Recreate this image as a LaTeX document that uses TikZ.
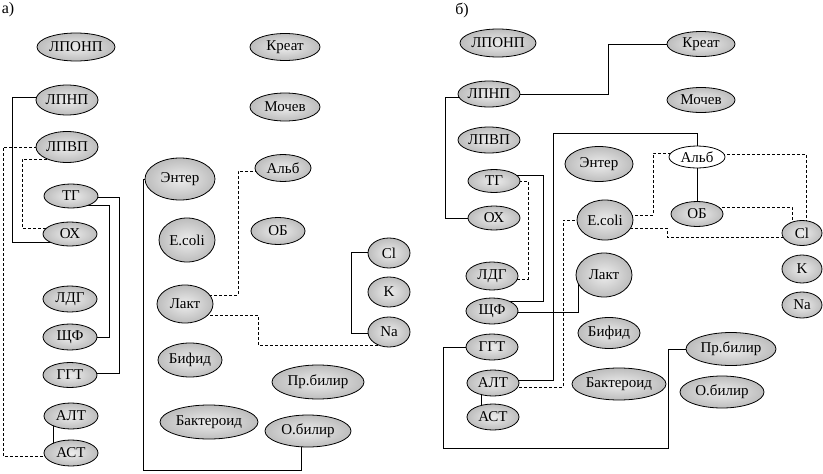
\documentclass[tikz,border=0pt]{standalone}
\usepackage{fontspec}
\setmainfont{Liberation Serif}
\usetikzlibrary{shapes.geometric,backgrounds}
\tikzset{
  el/.style 2 args={ellipse, draw, line width=0.8pt, inner sep=0pt,
    minimum width=#1pt, minimum height=#2pt,
    shade, inner color=black!7, outer color=black!26,
    font=\fontsize{15}{17}\selectfont},
  elw/.style 2 args={ellipse, draw, line width=0.8pt, inner sep=0pt,
    minimum width=#1pt, minimum height=#2pt, fill=white,
    font=\fontsize{15}{17}\selectfont},
  con/.style={line width=1pt},
  dcon/.style={line width=1pt, dash pattern=on 3pt off 2pt},
  lbl/.style={font=\fontsize{16}{18}\selectfont, inner sep=0pt}
}
\begin{document}
\begin{tikzpicture}[x=1pt,y=-1pt]
\useasboundingbox (0,0) rectangle (823,474);
% ---------- panel a ----------
\node[lbl] (labA) at (8,10) {а)};
\node[el={78}{28}] (lponpA) at (76,47) {ЛПОНП};
\node[el={62}{30}] (lpnpA) at (67,100) {ЛПНП};
\node[el={62}{31}] (lpvpA) at (67,147) {ЛПВП};
\node[el={54}{24}] (tgA) at (71,196) {ТГ};
\node[el={54}{24}] (oxA) at (70,234) {ОХ};
\node[el={54}{26}] (ldgA) at (70,299) {ЛДГ};
\node[el={54}{26}] (shfA) at (70,337) {ЩФ};
\node[el={54}{25}] (ggtA) at (70,375) {ГГТ};
\node[el={54}{26}] (altA) at (71,416) {АЛТ};
\node[el={54}{26}] (astA) at (71,453) {АСТ};
\node[el={70}{42}] (enterA) at (180,179) {Энтер};
\node[el={56}{44}] (ecoliA) at (187,240) {E.coli};
\node[el={56}{38}] (laktA) at (185,304) {Лакт};
\node[el={64}{34}] (bifA) at (190,360) {Бифид};
\node[el={98}{34}] (bactA) at (209,422) {Бактероид};
\node[el={70}{27}] (kreatA) at (285,47) {Креат};
\node[el={70}{28}] (mochA) at (285,107) {Мочев};
\node[el={56}{27}] (albA) at (283,168) {Альб};
\node[el={54}{27}] (obA) at (278,231) {ОБ};
\node[el={42}{30}] (clA) at (389,253) {Cl};
\node[el={42}{30}] (kA) at (389,292) {K};
\node[el={42}{30}] (naA) at (389,332) {Na};
\node[el={92}{34}] (prbA) at (318,382) {Пр.билир};
\node[el={86}{32}] (obilA) at (308,431) {О.билир};
% ---------- panel b ----------
\node[lbl] (labB) at (462,10) {б)};
\node[el={76}{28}] (lponpB) at (498,43) {ЛПОНП};
\node[el={62}{26}] (lpnpB) at (489,94) {ЛПНП};
\node[el={62}{26}] (lpvpB) at (489,140) {ЛПВП};
\node[el={52}{23}] (tgB) at (494,181) {ТГ};
\node[el={52}{24}] (oxB) at (494,218) {ОХ};
\node[el={52}{28}] (ldgB) at (492,276) {ЛДГ};
\node[el={52}{26}] (shfB) at (492,311) {ЩФ};
\node[el={52}{26}] (ggtB) at (492,347) {ГГТ};
\node[el={52}{26}] (altB) at (493,383) {АЛТ};
\node[el={52}{26}] (astB) at (493,417) {АСТ};
\node[el={68}{35}] (enterB) at (599,164) {Энтер};
\node[el={56}{40}] (ecoliB) at (605,220) {E.coli};
\node[el={56}{44}] (laktB) at (604,275) {Лакт};
\node[el={62}{31}] (bifB) at (609,333) {Бифид};
\node[el={94}{32}] (bactB) at (619,384) {Бактероид};
\node[el={68}{25}] (kreatB) at (701,44) {Креат};
\node[el={68}{25}] (mochB) at (701,100) {Мочев};
\node[elw={56}{22}] (albB) at (697,157) {Альб};
\node[el={52}{25}] (obB) at (697,214) {ОБ};
\node[el={40}{25}] (clB) at (802,233) {Cl};
\node[el={40}{28}] (kB) at (802,269) {K};
\node[el={40}{26}] (naB) at (802,305) {Na};
\node[el={90}{33}] (prbB) at (731,349) {Пр.билир};
\node[el={84}{32}] (obilB) at (722,392) {О.билир};
% ---------- connectors (behind nodes) ----------
\begin{scope}[on background layer]
% panel a
\draw[con] ([yshift=3pt]lpnpA.center) -| (12,242) -- ([yshift=-8pt]oxA.center);
\draw[dcon] (lpvpA.center) -| (3,456) -- ([yshift=-3pt]astA.center);
\draw[dcon] ([yshift=-12pt]lpvpA.center) -| (22,228) -- ([yshift=6pt]oxA.center);
\draw[con] ([yshift=-1pt]tgA.center) -| (119,373) -- ([yshift=2pt]ggtA.center);
\draw[con] ([yshift=-9pt]tgA.center) -| (109,337) -- (shfA.center);
\draw[con] ([xshift=-18pt]altA.center) -- ([xshift=-18pt]astA.center);
\draw[con] (enterA.center) -| (143,470) -| ([xshift=-7pt]obilA.center);
\draw[dcon] ([yshift=-3pt]albA.center) -| (238,295) -- ([yshift=9pt]laktA.center);
\draw[dcon] ([yshift=-11pt]laktA.center) -| (258,345) -- ([yshift=-13pt]naA.center);
\draw[con] ([yshift=1pt]clA.center) -| (351,333) -- ([yshift=-1pt]naA.center);
% panel b
\draw[con] (lpnpB.center) -| (608,44) -- (kreatB.center);
\draw[con] ([yshift=-3pt]lpnpB.center) -| (445,218) -- (oxB.center);
\draw[con] ([yshift=6pt]tgB.center) -| (543,301) -| (shfB.center);
\draw[dcon] (tgB.center) -| (528,279) -| (ldgB.center);
\draw[con] ([yshift=3pt]altB.center) -| (553,133) -| (albB.center);
\draw[dcon] (ecoliB.center) -| (563,387) -| (altB.center);
\draw[con] ([yshift=-1pt]shfB.center) -| ([xshift=-26pt]laktB.center);
\draw[con] (ggtB.center) -| (443,448) -| (668,349) -- (prbB.center);
\draw[con] ([xshift=-12pt]altB.center) -- ([xshift=-12pt]astB.center);
\draw[dcon] ([yshift=5pt]ecoliB.center) -| (653,153) -- ([yshift=4pt]albB.center);
\draw[con] (albB.center) -- (obB.center);
\draw[dcon] ([yshift=3pt]albB.center) -| ([xshift=4pt]clB.center);
\draw[dcon] ([yshift=7pt]obB.center) -| ([xshift=-10pt]clB.center);
\draw[dcon] ([yshift=-8pt]ecoliB.center) -| (667,237) -| (clB.center);
\end{scope}
\end{tikzpicture}
\end{document}
